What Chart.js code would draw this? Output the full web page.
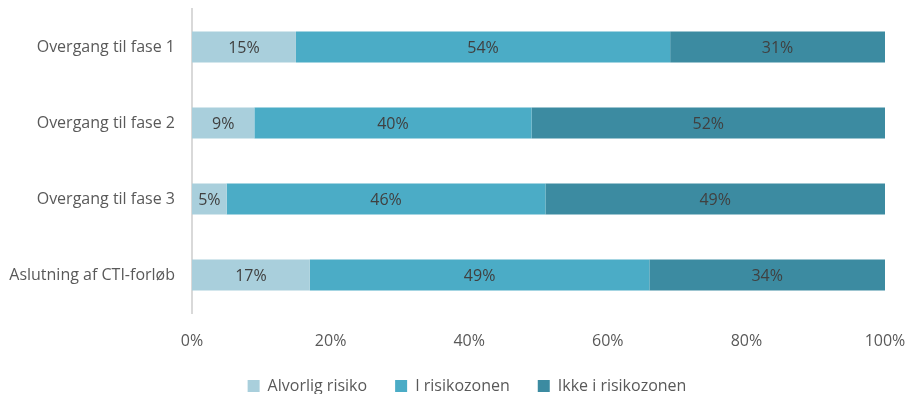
<!DOCTYPE html>
<html>
<head>
<meta charset="utf-8">
<script src="https://cdn.jsdelivr.net/npm/chart.js@4/dist/chart.umd.min.js"></script>
<style>
  html, body { margin: 0; padding: 0; background: #fff; }
  #wrap { width: 906px; height: 394px; }
</style>
</head>
<body>
<div id="wrap"><canvas id="c"></canvas></div>
<script>
// Categories and shares (percent) per risk group
const categories = ["Overgang til fase 1", "Overgang til fase 2", "Overgang til fase 3", "Aslutning af CTI-forløb"];
const alvorligRisiko = [15, 9, 5, 17];
const iRisikozonen = [54, 40, 46, 49];
const ikkeIRisikozonen = [31, 52, 49, 34];
const xTicks = [0, 20, 40, 60, 80, 100];

const FONT = "'Open Sans', sans-serif";
const SIZE = 16;
const TEXT = "#595959";

// Writes each segment's percentage in the middle of its bar
const segmentLabels = {
  id: "segmentLabels",
  afterDatasetsDraw(chart) {
    const ctx = chart.ctx;
    ctx.save();
    ctx.font = SIZE + "px " + FONT;
    ctx.fillStyle = "#404040";
    ctx.textAlign = "center";
    ctx.textBaseline = "middle";
    chart.data.datasets.forEach((ds, i) => {
      const meta = chart.getDatasetMeta(i);
      meta.data.forEach((bar, j) => {
        const left = Math.min(bar.x, bar.base);
        const right = Math.min(Math.max(bar.x, bar.base), chart.chartArea.right);
        ctx.fillText(ds.data[j] + "%", (left + right) / 2, bar.y + 1);
      });
    });
    ctx.restore();
  }
};

// Fixed-height legend band, nudged a little right of the canvas centre
const legendPlacement = {
  id: "legendPlacement",
  beforeUpdate(chart) {
    const lg = chart.legend;
    if (lg && !lg._fixedFit) {
      const fit = lg.fit.bind(lg);
      lg.fit = function () { fit(); this.height = 44; };
      lg._fixedFit = true;
    }
  },
  afterLayout(chart) {
    const lg = chart.legend;
    if (lg) { lg.left += 14; lg.right += 14; }
  }
};

new Chart(document.getElementById("c"), {
  type: "bar",
  data: {
    labels: categories,
    datasets: [
      { label: "Alvorlig risiko", data: alvorligRisiko, backgroundColor: "#A9CFDC" },
      { label: "I risikozonen", data: iRisikozonen, backgroundColor: "#4BACC6" },
      { label: "Ikke i risikozonen", data: ikkeIRisikozonen, backgroundColor: "#3C8BA1" }
    ]
  },
  options: {
    indexAxis: "y",
    responsive: true,
    maintainAspectRatio: false,
    animation: false,
    layout: { padding: { top: 9, right: 0, left: 0, bottom: 0 } },
    datasets: { bar: { categoryPercentage: 1, barPercentage: 0.41, borderWidth: 0 } },
    scales: {
      x: {
        stacked: true,
        min: 0,
        max: 100,
        afterBuildTicks(scale) { scale.ticks = xTicks.map(v => ({ value: v })); },
        afterFit(scale) {
          scale.height = 37;
          scale.paddingLeft = 0;
          scale.paddingRight = 21;
        },
        grid: { display: false, drawTicks: false },
        border: { display: false },
        ticks: {
          padding: 19,
          color: TEXT,
          font: { family: FONT, size: SIZE },
          callback: v => v + "%"
        }
      },
      y: {
        stacked: true,
        afterFit(scale) {
          scale.width = 192;
          scale.paddingTop = 0;
          scale.paddingBottom = 0;
        },
        grid: { display: false, drawTicks: false },
        border: { display: true, color: "#D9D9D9", width: 2 },
        ticks: {
          padding: 17,
          color: TEXT,
          font: { family: FONT, size: SIZE }
        }
      }
    },
    plugins: {
      legend: {
        position: "bottom",
        labels: {
          boxWidth: 12,
          boxHeight: 12,
          padding: 28,
          color: TEXT,
          font: { family: FONT, size: SIZE }
        }
      },
      tooltip: { enabled: false }
    }
  },
  plugins: [segmentLabels, legendPlacement]
});
</script>
</body>
</html>
